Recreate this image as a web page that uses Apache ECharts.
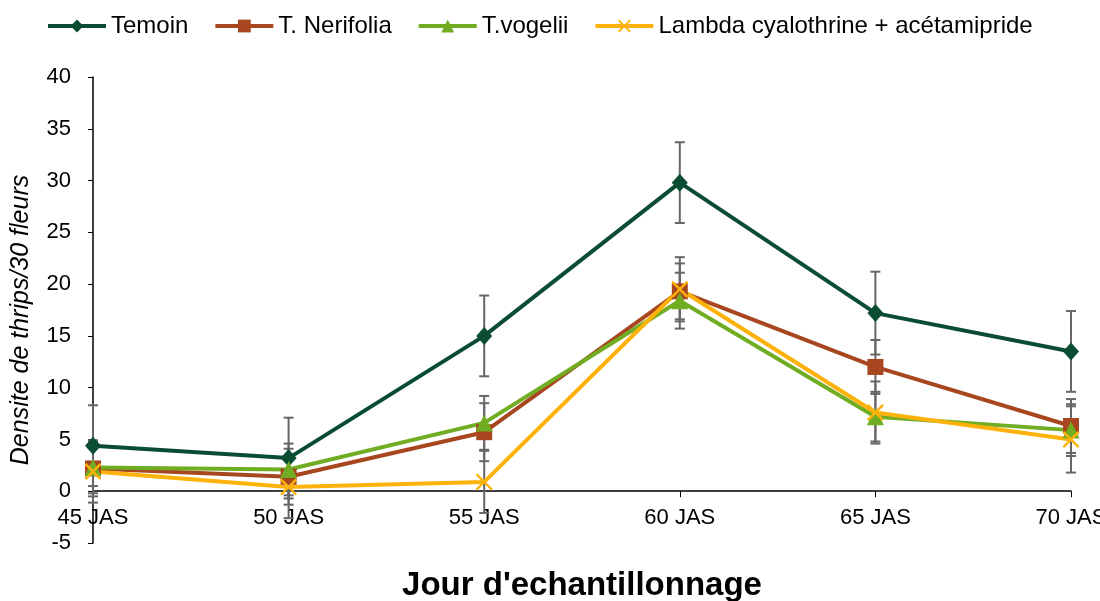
<!DOCTYPE html>
<html><head><meta charset="utf-8">
<script src="https://cdn.jsdelivr.net/npm/echarts@6/dist/echarts.min.js"></script>
<style>html,body{margin:0;padding:0;background:#fff}#c{width:1100px;height:601px}</style>
</head><body><div id="c"></div>
<script>
const categories = ['45 JAS','50 JAS','55 JAS','60 JAS','65 JAS','70 JAS'];
const seriesNames = ['Temoin','T. Nerifolia','T.vogelii','Lambda cyalothrine + acétamipride'];
const temoin     = [4.4, 3.2, 15.0, 29.8, 17.2, 13.5];
const nerifolia  = [2.2, 1.4, 5.7, 19.3, 12.0, 6.3];
const vogelii    = [2.3, 2.1, 6.6, 18.4, 7.2, 5.9];
const lambda     = [1.9, 0.4, 0.9, 19.5, 7.6, 5.0];
const errTemoin    = [3.9, 3.9, 3.9, 3.9, 4.0, 3.9];
const errNerifolia = [2.7, 2.7, 2.8, 2.7, 2.6, 2.6];
const errVogelii   = [2.5, 2.5, 2.6, 2.7, 2.4, 2.5];
const errLambda    = [3.0, 3.0, 3.0, 3.1, 3.0, 3.2];
const yTicks = [-5, 40, 5];

const colors = ['#0A4D33','#A8471F','#70AD22','#FDB20A'];
const xPath = 'path://M0,10 L10,0 L50,40 L90,0 L100,10 L60,50 L100,90 L90,100 L50,60 L10,100 L0,90 L40,50 Z';
const symbols = ['diamond','rect','triangle', xPath];
const symSizes = [[16,18], 16, 17, 17];
const values = [temoin, nerifolia, vogelii, lambda];
const errs = [errTemoin, errNerifolia, errVogelii, errLambda];

const gridTop = 77, gridBottom = 58, H = 601;
const gridH = H - gridTop - gridBottom;
const xOffset = -((0 - yTicks[0]) / (yTicks[1] - yTicks[0])) * gridH;

const chart = echarts.init(document.getElementById('c'));
const series = [];
values.forEach((vals, s) => {
  series.push({
    type: 'custom', silent: true, z: 1,
    data: vals.map((v, i) => [i, v, errs[s][i]]),
    renderItem: (params, api) => {
      const i = api.value(0), v = api.value(1), e = api.value(2);
      const top = api.coord([i, v + e]);
      const bot = api.coord([i, v - e]);
      const st = {stroke: '#666666', lineWidth: 2};
      return {type: 'group', children: [
        {type: 'line', shape: {x1: top[0], y1: top[1], x2: bot[0], y2: bot[1]}, style: st},
        {type: 'line', shape: {x1: top[0]-5, y1: top[1], x2: top[0]+5, y2: top[1]}, style: st},
        {type: 'line', shape: {x1: bot[0]-5, y1: bot[1], x2: bot[0]+5, y2: bot[1]}, style: st}
      ]};
    }
  });
});
values.forEach((vals, s) => {
  series.push({
    name: seriesNames[s], type: 'line', z: 3,
    data: vals,
    symbol: symbols[s], symbolSize: symSizes[s], showAllSymbol: true,
    lineStyle: {color: colors[s], width: 4},
    itemStyle: {color: colors[s]}
  });
});

chart.setOption({
  animation: false,
  textStyle: {fontFamily: 'Liberation Sans, Arial, sans-serif'},
  legend: {
    data: seriesNames, left: 41, top: 9, itemWidth: 58, itemHeight: 16, itemGap: 25,
    lineStyle: {width: 4},
    textStyle: {fontSize: 24, color: '#000', fontFamily: 'Liberation Sans'}
  },
  grid: {left: 93, right: 29, top: gridTop, bottom: gridBottom, containLabel: false, outerBoundsMode: 'none'},
  xAxis: {
    type: 'category', data: categories, boundaryGap: false, offset: xOffset,
    name: "Jour d'echantillonnage", nameLocation: 'middle', nameGap: 78,
    nameTextStyle: {fontSize: 33, fontWeight: 'bold', color: '#000', fontFamily: 'Liberation Sans'},
    axisLine: {onZero: false, lineStyle: {color: '#000', width: 1.5}},
    axisTick: {show: true, alignWithLabel: true, length: 6, lineStyle: {color: '#000'}},
    axisLabel: {fontSize: 22, color: '#000', margin: 16, fontFamily: 'Liberation Sans'},
    splitLine: {show: false}
  },
  yAxis: {
    type: 'value', min: yTicks[0], max: yTicks[1], interval: yTicks[2],
    name: 'Densite de thrips/30 fleurs', nameLocation: 'middle', nameGap: 59,
    nameTextStyle: {fontSize: 25, fontStyle: 'italic', color: '#000', fontFamily: 'Liberation Sans', padding: [0, 20, 0, 0]},
    axisLine: {show: true, lineStyle: {color: '#000', width: 1.5}},
    axisTick: {show: true, length: 5, lineStyle: {color: '#000'}},
    axisLabel: {fontSize: 22, color: '#000', margin: 22, fontFamily: 'Liberation Sans'},
    splitLine: {show: false}
  },
  series: series
});
</script></body></html>
